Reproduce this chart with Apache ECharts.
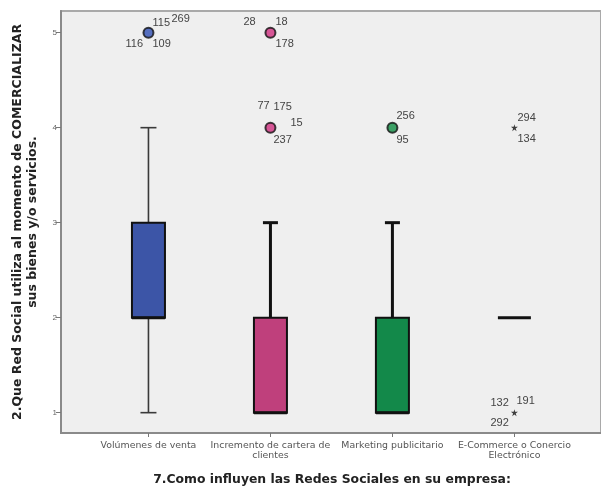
<!DOCTYPE html>
<html>
<head>
<meta charset="utf-8">
<script src="https://cdn.jsdelivr.net/npm/echarts@6/dist/echarts.min.js"></script>
<style>
  html, body { margin: 0; padding: 0; background: #fff; }
  #chart { width: 601px; height: 490px; }
</style>
</head>
<body>
<div id="chart"></div>
<script>
// categorias del eje X
const categories = ['Volúmenes de venta', 'Incremento de cartera de\nclientes', 'Marketing publicitario', 'E-Commerce o Conercio\nElectrónico'];
const yTicks = [1, 2, 3, 4, 5];
// [categoria, min, Q1, mediana, Q3, max]
const boxes = [
  [1, 1, 2, 2, 3, 4],
  [2, 1, 1, 1, 2, 3],
  [3, 1, 1, 1, 2, 3],
  [4, 2, 2, 2, 2, 2]
];
// valores atipicos (circulos): [categoria, valor, casos]
const outliers = [
  [1, 5, ['115', '269', '116', '109']],
  [2, 5, ['28', '18', '178']],
  [2, 4, ['77', '175', '15', '237']],
  [3, 4, ['256', '95']]
];
// valores extremos (asteriscos)
const extremes = [
  [4, 4, ['294', '134']],
  [4, 1, ['132', '191', '292']]
];

const boxColors = ['#3c55a7', '#bf407c', '#13894a', '#888'];
const dotColors = ['#2f4fb3', '#d0307f', '#0f8c42'];
const whiskerW = [1.6, 3, 3, 3];
const capHalf = [8, 7.5, 7.5, 7.5];
// desplazamiento de cada etiqueta de caso (px) respecto al punto
const outlierOffsets = [
  [[4, -10], [23, -14], [-23, 11], [4, 11]],
  [[-27, -11], [5, -11], [5, 11]],
  [[-13, -22], [3, -21], [20, -5], [3, 12]],
  [[4, -12], [4, 12]]
];
const extremeOffsets = [
  [[3, -10], [3, 11]],
  [[-24, -10], [2, -12], [-24, 10]]
];

const FONT = 'Liberation Sans';
const TITLE_FONT = 'DejaVu Sans';

function labelItems(list, offsets) {
  return list.map((d, i) => ({ value: [d[0], d[1]], texts: d[2], offs: offsets[i] }));
}

function renderLabels(items) {
  return function (params, api) {
    const it = items[params.dataIndex];
    const p = api.coord([api.value(0), api.value(1)]);
    return {
      type: 'group',
      children: it.texts.map((t, k) => ({
        type: 'text',
        x: p[0] + it.offs[k][0],
        y: p[1] + it.offs[k][1],
        style: { text: t, fontSize: 11, fontFamily: FONT, fill: '#444', align: 'left', verticalAlign: 'middle' }
      }))
    };
  };
}

const outItems = labelItems(outliers, outlierOffsets);
const extItems = labelItems(extremes, extremeOffsets);

const chart = echarts.init(document.getElementById('chart'), null, { renderer: 'canvas' });
chart.setOption({
  animation: false,
  grid: {
    left: 61, right: -3, top: 11, bottom: 57,
    show: true, backgroundColor: '#efefef', borderColor: '#a9a9a9', borderWidth: 2
  },
  xAxis: {
    type: 'value', min: 0.283, max: 4.71,
    splitLine: { show: false },
    axisLine: { show: true, onZero: false, lineStyle: { color: '#8a8a8a', width: 2 } },
    axisTick: { show: true, customValues: [1, 2, 3, 4], length: 4, lineStyle: { color: '#777' } },
    axisLabel: {
      customValues: [1, 2, 3, 4],
      formatter: v => categories[Math.round(v) - 1],
      fontSize: 9.4, lineHeight: 10, color: '#555', fontFamily: TITLE_FONT, margin: 8
    }
  },
  yAxis: {
    type: 'value', min: 0.786, max: 5.228,
    splitLine: { show: false },
    axisLine: { show: true, onZero: false, lineStyle: { color: '#8a8a8a', width: 2 } },
    axisTick: { show: true, customValues: yTicks, length: 5, lineStyle: { color: '#777' } },
    axisLabel: { customValues: yTicks, fontSize: 8, color: '#666', fontFamily: FONT, margin: 4 }
  },
  graphic: [
    {
      type: 'text', x: 25, y: 222, rotation: Math.PI / 2,
      style: {
        text: '2.Que Red Social utiliza al momento de COMERCIALIZAR\nsus bienes y/o servicios.',
        fontSize: 12.5, fontWeight: 'bold', lineHeight: 15, fontFamily: TITLE_FONT, fill: '#222',
        align: 'center', verticalAlign: 'middle'
      }
    },
    {
      type: 'text', x: 332, y: 480,
      style: {
        text: '7.Como influyen las Redes Sociales en su empresa:',
        fontSize: 12.4, fontWeight: 'bold', fontFamily: TITLE_FONT, fill: '#222',
        align: 'center', verticalAlign: 'middle'
      }
    }
  ],
  series: [
    {
      type: 'custom',
      data: boxes,
      renderItem: (params, api) => {
        const i = params.dataIndex;
        const x = api.value(0);
        const pMin = api.coord([x, api.value(1)]);
        const pQ1 = api.coord([x, api.value(2)]);
        const pMed = api.coord([x, api.value(3)]);
        const pQ3 = api.coord([x, api.value(4)]);
        const pMax = api.coord([x, api.value(5)]);
        const cx = pQ1[0];
        const half = 16.5;
        const wStyle = { stroke: i === 0 ? '#3a3a3a' : '#111', lineWidth: whiskerW[i] };
        const children = [];
        if (pMax[1] < pQ3[1]) {
          children.push({ type: 'line', shape: { x1: cx, y1: pQ3[1], x2: cx, y2: pMax[1] }, style: wStyle });
          children.push({ type: 'line', shape: { x1: cx - capHalf[i], y1: pMax[1], x2: cx + capHalf[i], y2: pMax[1] }, style: wStyle });
        }
        if (pMin[1] > pQ1[1]) {
          children.push({ type: 'line', shape: { x1: cx, y1: pQ1[1], x2: cx, y2: pMin[1] }, style: wStyle });
          children.push({ type: 'line', shape: { x1: cx - capHalf[i], y1: pMin[1], x2: cx + capHalf[i], y2: pMin[1] }, style: wStyle });
        }
        if (pQ1[1] > pQ3[1]) {
          children.push({
            type: 'rect',
            shape: { x: cx - half, y: pQ3[1], width: half * 2, height: pQ1[1] - pQ3[1] },
            style: { fill: boxColors[i], stroke: '#111', lineWidth: 2 }
          });
        }
        children.push({ type: 'line', shape: { x1: cx - half, y1: pMed[1], x2: cx + half, y2: pMed[1] }, style: { stroke: '#111', lineWidth: 3 } });
        return { type: 'group', children };
      },
      z: 2
    },
    {
      type: 'scatter',
      data: outliers.map(d => ({ value: [d[0], d[1]], itemStyle: { color: dotColors[d[0] - 1] } })),
      symbol: 'circle', symbolSize: 10,
      itemStyle: { borderColor: '#111', borderWidth: 2 },
      z: 3
    },
    {
      type: 'scatter',
      data: extremes.map(d => [d[0], d[1]]),
      symbol: 'path://M5,0 L6,3.3 L9.8,3.5 L6.8,5.7 L8,9.3 L5,7.2 L2,9.3 L3.2,5.7 L0.2,3.5 L4,3.3 Z',
      symbolSize: 7,
      itemStyle: { color: '#111' },
      z: 3
    },
    { type: 'custom', data: outItems.map(d => d.value), renderItem: renderLabels(outItems), z: 4 },
    { type: 'custom', data: extItems.map(d => d.value), renderItem: renderLabels(extItems), z: 4 }
  ]
});
</script>
</body>
</html>
